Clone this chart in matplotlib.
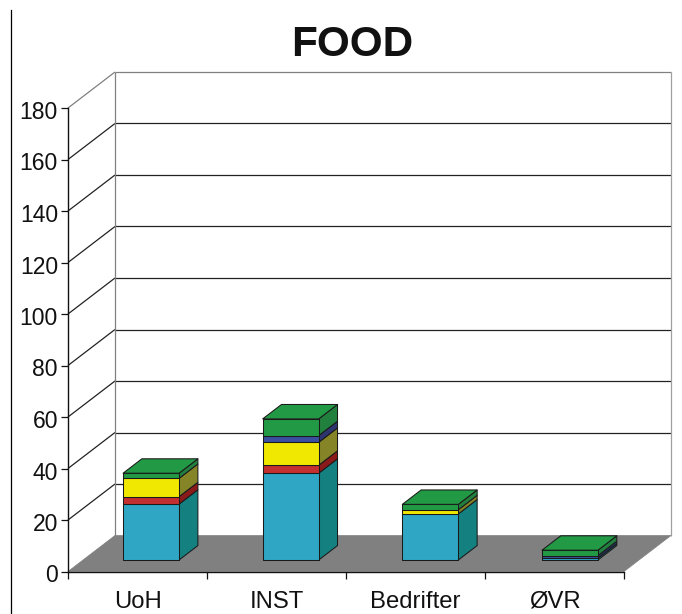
import matplotlib
matplotlib.use("Agg")
from matplotlib import pyplot as plt
from matplotlib.transforms import ScaledTranslation

plt.rcParams['font.family'] = ['Liberation Sans', 'DejaVu Sans']

categories = ["UoH", "INST", "Bedrifter", "ØVR"]
yticks = [0, 20, 40, 60, 80, 100, 120, 140, 160, 180]

# stacked series, bottom to top
cyan = [21.7, 33.7, 17.9, 0.7]
red = [2.9, 3.1, 0.0, 0.0]
yellow = [7.1, 8.9, 1.6, 0.0]
navy = [0.0, 2.6, 0.0, 1.0]
green = [2.0, 6.5, 2.1, 2.1]

series = [
    (cyan, "#2fa6c4", "#148080"),
    (red, "#c4302f", "#8b1a1a"),
    (yellow, "#f0e800", "#858528"),
    (navy, "#3a4f9f", "#2c3570"),
    (green, "#229944", "#22803f"),
]

W, H = 682, 614
fig = plt.figure(figsize=(W / 100, H / 100), dpi=100)
# axes box is the front plane of the 3d looking chart
ax = fig.add_axes([68 / W, 1 - 571.5 / H, 556 / W, 463.5 / H])
ax.set_xlim(0, 4)
ax.set_ylim(0, 180)
ax.patch.set_visible(False)

# oblique depth: how far one full depth unit moves in data coords
DX = 47 / 139
DY = 36 / 2.575


def pr(x, y, d):
    return x + d * DX, y + d * DY


def face(pts, **kw):
    xy = [pr(*p) for p in pts]
    ax.fill([p[0] for p in xy], [p[1] for p in xy], clip_on=False, **kw)


def edge(p1, p2, color, lw=0.9):
    a, b = pr(*p1), pr(*p2)
    ax.plot([a[0], b[0]], [a[1], b[1]], color=color, lw=lw, clip_on=False,
            solid_capstyle="butt", zorder=1.5)


# floor
face([(0, 0, 0), (4, 0, 0), (4, 0, 1), (0, 0, 1)], facecolor="#808080",
     edgecolor="#808080", lw=0.5, zorder=1.8)

# walls and grid
for v in yticks[1:]:
    c = "#808080" if v == 180 else "#222222"
    edge((0, v, 0), (0, v, 1), c)
    edge((0, v, 1), (4, v, 1), c)
edge((0, 0, 1), (0, 180, 1), "#808080")
edge((4, 0, 1), (4, 180, 1), "#a0a0a0")

# bars
BAR_LEFT = 0.288
BAR_W = 0.403
BAR_STEP = 1.0045
D0 = 0.32
D1 = 0.72
for i in range(len(categories)):
    x0 = BAR_LEFT + i * BAR_STEP
    x1 = x0 + BAR_W
    base = 0.0
    z = 3 + i
    style = dict(edgecolor="#1a1a1a", lw=0.75, joinstyle="round", zorder=z)
    for vals, front, side in series:
        v = vals[i]
        if v == 0:
            continue
        top = base + v
        face([(x1, base, D0), (x1, base, D1), (x1, top, D1), (x1, top, D0)],
             facecolor=side, **style)
        face([(x0, base, D0), (x1, base, D0), (x1, top, D0), (x0, top, D0)],
             facecolor=front, **style)
        base = top
    face([(x0, base, D0), (x1, base, D0), (x1, base, D1), (x0, base, D1)],
         facecolor=series[-1][1], **style)

for s in ["top", "right"]:
    ax.spines[s].set_visible(False)
for s in ["left", "bottom"]:
    ax.spines[s].set_color("#111111")
    ax.spines[s].set_linewidth(1.0)
    ax.spines[s].set_zorder(2)

ax.set_yticks(yticks)
ax.tick_params(axis="y", length=5, width=0.9, labelsize=16.5, pad=1.5, color="#111111", labelcolor="#111111")
# y labels sit a little below their ticks
for lab in ax.get_yticklabels():
    lab.set_transform(lab.get_transform() + ScaledTranslation(-1 / 100, -2 / 100, fig.dpi_scale_trans))
ax.set_xticks(range(5))
ax.set_xticklabels([])
ax.tick_params(axis="x", which="major", length=5, width=0.9, color="#111111")
ax.set_xticks([0.5, 1.5, 2.5, 3.5], minor=True)
ax.set_xticklabels(categories, minor=True)
ax.tick_params(axis="x", which="minor", length=0, labelsize=17.2, pad=14, labelcolor="#111111")

# title and the stray rule on the left
fig.text(352.5 / W, 1 - 45.5 / H, "FOOD", fontsize=30.4, fontweight="bold", ha="center", va="center", color="#111111")
fig.add_artist(plt.Line2D([10.5 / W, 10.5 / W], [1 - 10 / H, 0], color="black", lw=0.9))

fig.savefig("out.png", dpi=100)
